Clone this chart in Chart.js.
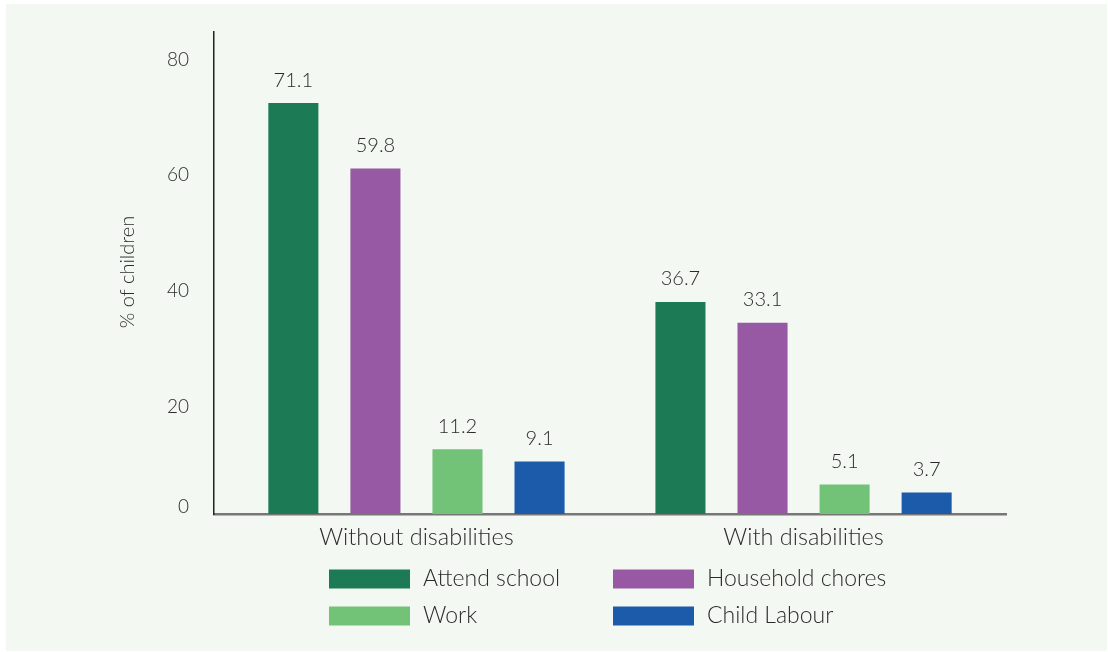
<!DOCTYPE html>
<html>
<head>
<meta charset="utf-8">
<script src="https://cdn.jsdelivr.net/npm/chart.js@4/dist/chart.umd.min.js"></script>
<style>
  html, body { margin: 0; padding: 0; background: #ffffff; }
  canvas { display: block; }
</style>
</head>
<body>
<canvas id="chart" width="1108" height="652"></canvas>
<script>
const groups = ["Without disabilities", "With disabilities"];
const attendSchool = [71.1, 36.7];
const householdChores = [59.8, 33.1];
const work = [11.2, 5.1];
const childLabour = [9.1, 3.7];
const yTicks = [0, 20, 40, 60, 80];
const yTitle = "% of children";

const FONT = "Lato, 'Open Sans', sans-serif";
const TEXT = "#2b2b2b";

// groups sit on a numeric x axis at 0 and 1
const points = values => values.map((v, i) => ({ x: i, y: v }));

// panel, value labels, axis text and the 2x2 legend
const decorations = {
  id: "decorations",
  beforeDraw(chart) {
    const ctx = chart.ctx;
    ctx.save();
    ctx.fillStyle = "#f3f8f2";
    ctx.fillRect(6, 4, 1101, 647);
    ctx.restore();
  },
  afterDatasetsDraw(chart) {
    const ctx = chart.ctx;
    ctx.save();
    ctx.font = "300 20px " + FONT;
    ctx.fillStyle = TEXT;
    ctx.textAlign = "center";
    ctx.textBaseline = "middle";
    chart.data.datasets.forEach((ds, i) => {
      chart.getDatasetMeta(i).data.forEach((bar, j) => {
        ctx.fillText(ds.data[j].y.toFixed(1), bar.x, bar.y - 23);
      });
    });
    ctx.restore();
  },
  afterDraw(chart) {
    const ctx = chart.ctx;
    const area = chart.chartArea;
    const y = chart.scales.y;
    const x = chart.scales.x;
    ctx.save();
    ctx.fillStyle = TEXT;

    // y tick labels
    ctx.font = "300 19px " + FONT;
    ctx.textAlign = "right";
    ctx.textBaseline = "middle";
    yTicks.forEach(v => {
      const py = Math.min(y.getPixelForValue(v) + 8, area.bottom - 7);
      ctx.fillText(String(v), 189, py);
    });

    // y title
    ctx.save();
    ctx.font = "300 20px " + FONT;
    ctx.textAlign = "center";
    ctx.translate(128, 272);
    ctx.rotate(-Math.PI / 2);
    ctx.fillText(yTitle, 0, 0);
    ctx.restore();

    // category labels
    ctx.font = "300 23.5px " + FONT;
    ctx.textAlign = "center";
    groups.forEach((g, i) => {
      ctx.fillText(g, x.getPixelForValue(i), area.bottom + 23);
    });

    // legend
    const colX = [329, 613];
    const rowY = [579, 616];
    ctx.font = "300 23px " + FONT;
    ctx.textAlign = "left";
    chart.data.datasets.forEach((ds, i) => {
      const lx = colX[i % 2];
      const ly = rowY[Math.floor(i / 2)];
      ctx.fillStyle = ds.backgroundColor;
      ctx.fillRect(lx, ly - 9.5, 81, 19);
      ctx.fillStyle = TEXT;
      ctx.fillText(ds.label, lx + 94, ly);
    });
    ctx.restore();
  }
};

new Chart(document.getElementById("chart"), {
  type: "bar",
  data: {
    datasets: [
      { label: "Attend school", data: points(attendSchool), backgroundColor: "#1c7b55" },
      { label: "Household chores", data: points(householdChores), backgroundColor: "#9759a3" },
      { label: "Work", data: points(work), backgroundColor: "#72c378" },
      { label: "Child Labour", data: points(childLabour), backgroundColor: "#1b5baa" }
    ]
  },
  options: {
    responsive: false,
    animation: false,
    categoryPercentage: 0.848,
    barPercentage: 0.61,
    layout: { padding: { left: 214, right: 102, top: 32, bottom: 138 } },
    plugins: {
      legend: { display: false },
      tooltip: { enabled: false }
    },
    scales: {
      x: {
        type: "linear",
        offset: false,
        min: -0.523,
        max: 1.523,
        grid: { display: false, drawTicks: false },
        ticks: { display: false, stepSize: 1, includeBounds: false },
        border: { color: "#777777", width: 2.5 }
      },
      y: {
        min: 0,
        max: 83.4,
        grid: { display: false, drawTicks: false },
        ticks: { display: false },
        border: { color: "#222222", width: 1.5 }
      }
    }
  },
  plugins: [decorations]
});
</script>
</body>
</html>
